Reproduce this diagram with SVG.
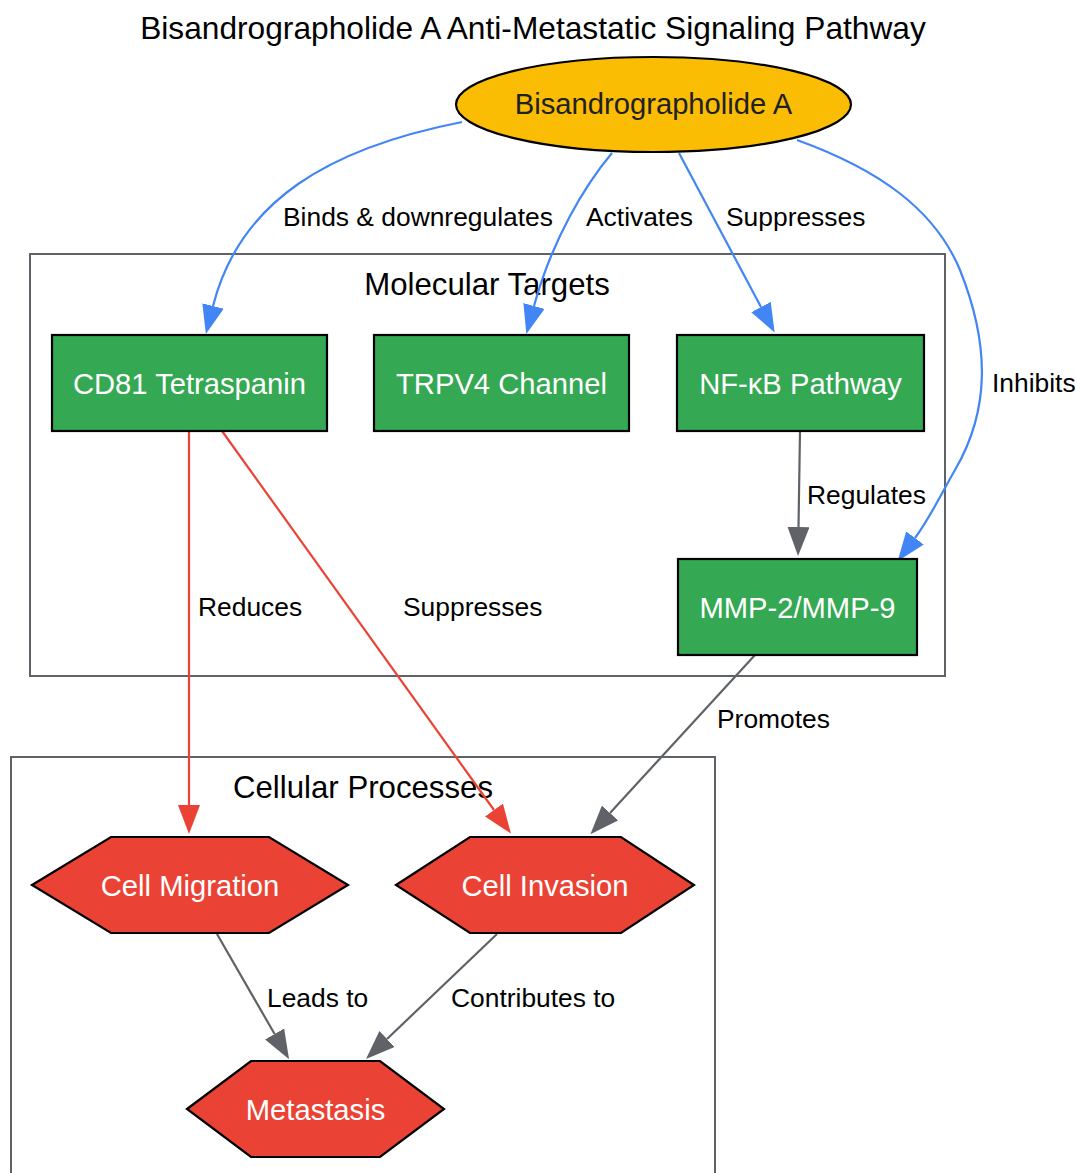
<svg xmlns="http://www.w3.org/2000/svg" width="1077" height="1173" viewBox="0 0 1077 1173">
<style>
text{font-family:"Liberation Sans",Arial,sans-serif}
.title{font-size:31.7px;fill:#000;text-anchor:middle}
.cl{font-size:31.2px;fill:#000;text-anchor:middle}
.clbox{fill:none;stroke:#5F6368;stroke-width:2}
.nt{font-size:29.2px;fill:#fff;text-anchor:middle}
.green{fill:#34A853;stroke:#000;stroke-width:2.2}
.red{fill:#EA4335;stroke:#000;stroke-width:2.2}
.el{font-size:26.4px;fill:#000}
.e{fill:none;stroke-width:2.2}
.blue{stroke:#4285F4}
.gray{stroke:#5F6368}
.redl{stroke:#EA4335}
</style>
<defs>
<marker id="ab" markerUnits="userSpaceOnUse" markerWidth="30" markerHeight="22" refX="0" refY="11" orient="auto"><path d="M0,0 L29,11 L0,22 Z" fill="#4285F4"/></marker>
<marker id="ag" markerUnits="userSpaceOnUse" markerWidth="30" markerHeight="22" refX="0" refY="11" orient="auto"><path d="M0,0 L29,11 L0,22 Z" fill="#5F6368"/></marker>
<marker id="ar" markerUnits="userSpaceOnUse" markerWidth="30" markerHeight="22" refX="0" refY="11" orient="auto"><path d="M0,0 L29,11 L0,22 Z" fill="#EA4335"/></marker>
</defs>
<rect width="1077" height="1173" fill="#fff"/>
<text class="title" x="533" y="39">Bisandrographolide A Anti-Metastatic Signaling Pathway</text>
<g id="cluster_targets">
<rect class="clbox" x="30" y="254" width="915" height="422"/>
<text class="cl" x="487" y="295">Molecular Targets</text>
</g>
<g id="cluster_processes">
<rect class="clbox" x="11" y="757" width="704" height="430"/>
<text class="cl" x="363" y="798">Cellular Processes</text>
</g>
<g id="edges">
<path class="e blue" d="M462,122 C330,148 240,200 213,306" marker-end="url(#ab)"/>
<text class="el" x="283" y="226">Binds &amp; downregulates</text>
<path class="e blue" d="M612,153 C585,185 552,240 534,306" marker-end="url(#ab)"/>
<text class="el" x="586" y="226">Activates</text>
<path class="e blue" d="M679,153 L761,307" marker-end="url(#ab)"/>
<text class="el" x="726" y="226">Suppresses</text>
<path class="e blue" d="M797,140 C880,170 935,210 960,270 C990,345 990,410 955,470 C945,487 930,518 915,538" marker-end="url(#ab)"/>
<text class="el" x="992" y="392">Inhibits</text>
<path class="e gray" d="M800,431 L798.5,527" marker-end="url(#ag)"/>
<text class="el" x="807" y="504">Regulates</text>
<path class="e redl" d="M189,431 L189,805" marker-end="url(#ar)"/>
<text class="el" x="198" y="616">Reduces</text>
<path class="e redl" d="M222,431 L494,810" marker-end="url(#ar)"/>
<text class="el" x="403" y="616">Suppresses</text>
<path class="e gray" d="M755,655 L610,813" marker-end="url(#ag)"/>
<text class="el" x="717" y="728">Promotes</text>
<path class="e gray" d="M217,934 L274.6,1034" marker-end="url(#ag)"/>
<text class="el" x="267" y="1007">Leads to</text>
<path class="e gray" d="M497,934 L387,1039" marker-end="url(#ag)"/>
<text class="el" x="451" y="1007">Contributes to</text>
</g>
<g id="node_bisandrographolide">
<ellipse cx="653.5" cy="104.5" rx="197.5" ry="47.5" fill="#FBBC04" stroke="#000" stroke-width="2.2"/>
<text class="nt" x="653.5" y="114" style="fill:#202124">Bisandrographolide A</text>
</g>
<g id="node_cd81">
<rect class="green" x="52" y="335" width="275" height="96"/>
<text class="nt" x="189.5" y="394">CD81 Tetraspanin</text>
</g>
<g id="node_trpv4">
<rect class="green" x="374" y="335" width="255" height="96"/>
<text class="nt" x="501.5" y="394">TRPV4 Channel</text>
</g>
<g id="node_nfkb">
<rect class="green" x="677" y="335" width="247" height="96"/>
<text class="nt" x="800.5" y="394">NF-κB Pathway</text>
</g>
<g id="node_mmp">
<rect class="green" x="678" y="559" width="239" height="96"/>
<text class="nt" x="797.5" y="618">MMP-2/MMP-9</text>
</g>
<g id="node_migration">
<polygon class="red" points="32,885 111,837 269,837 348,885 269,933 111,933"/>
<text class="nt" x="190" y="896">Cell Migration</text>
</g>
<g id="node_invasion">
<polygon class="red" points="396,885 470,837 621,837 694,885 621,933 470,933"/>
<text class="nt" x="545" y="896">Cell Invasion</text>
</g>
<g id="node_metastasis">
<polygon class="red" points="187,1109 251,1061 380,1061 444,1109 380,1157 251,1157"/>
<text class="nt" x="315.5" y="1120">Metastasis</text>
</g>
</svg>
